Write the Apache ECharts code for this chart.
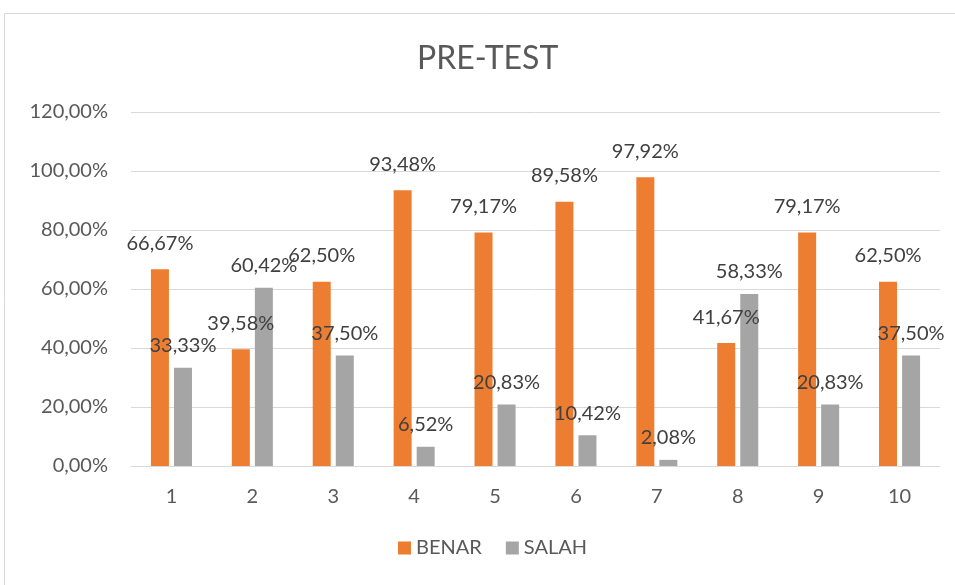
<!DOCTYPE html>
<html>
<head>
<meta charset="utf-8">
<script src="https://cdn.jsdelivr.net/npm/echarts@6/dist/echarts.min.js"></script>
<style>
  html, body { margin: 0; padding: 0; background: #fff; }
  #box { width: 955px; height: 585px; }
</style>
</head>
<body>
<div id="box"></div>
<script>
  // data
  const categories = ["1", "2", "3", "4", "5", "6", "7", "8", "9", "10"];
  const benar = [66.67, 39.58, 62.5, 93.48, 79.17, 89.58, 97.92, 41.67, 79.17, 62.5];
  const salah = [33.33, 60.42, 37.5, 6.52, 20.83, 10.42, 2.08, 58.33, 20.83, 37.5];

  const fmt = (v) => v.toFixed(2).replace(".", ",") + "%";
  const font = "Lato, 'Open Sans', sans-serif";

  var myChart = echarts.init(document.getElementById("box"));
  myChart.setOption({
    textStyle: { fontFamily: font },
    graphic: [
      {
        type: "rect",
        shape: { x: 4.5, y: 13.5, width: 1000, height: 1000 },
        style: { fill: "none", stroke: "#d9d9d9", lineWidth: 1 },
        silent: true,
      },
    ],
    title: {
      text: "PRE-TEST",
      left: 412,
      top: 38,
      textStyle: { fontFamily: font, fontSize: 32, fontWeight: "normal", color: "#595959" },
    },
    legend: {
      bottom: 22,
      left: 393,
      itemWidth: 13,
      itemHeight: 13,
      itemGap: 24,
      icon: "rect",
      textStyle: { fontFamily: font, fontSize: 20, color: "#595959" },
      data: ["BENAR", "SALAH"],
    },
    grid: { left: 131, right: 15, top: 112, bottom: 119 },
    xAxis: {
      type: "category",
      data: categories,
      axisLine: { lineStyle: { color: "#d9d9d9" } },
      axisTick: { show: false },
      axisLabel: { color: "#595959", fontSize: 20, margin: 21 },
    },
    yAxis: {
      type: "value",
      min: 0,
      max: 120,
      interval: 20,
      axisLine: { show: false },
      axisTick: { show: false },
      splitLine: { lineStyle: { color: "#d9d9d9" } },
      axisLabel: { color: "#595959", fontSize: 20, margin: 23, formatter: fmt },
    },
    series: [
      {
        name: "BENAR",
        type: "bar",
        data: benar,
        barWidth: 18,
        barGap: "28%",
        itemStyle: { color: "#ED7D31" },
        label: {
          show: true,
          position: "top",
          distance: 16,
          color: "#404040",
          fontSize: 20,
          formatter: (p) => fmt(p.value),
        },
      },
      {
        name: "SALAH",
        type: "bar",
        data: salah,
        barWidth: 18,
        itemStyle: { color: "#A5A5A5" },
        label: {
          show: true,
          position: "top",
          distance: 12,
          color: "#404040",
          fontSize: 20,
          formatter: (p) => fmt(p.value),
        },
      },
    ],
  });
</script>
</body>
</html>
